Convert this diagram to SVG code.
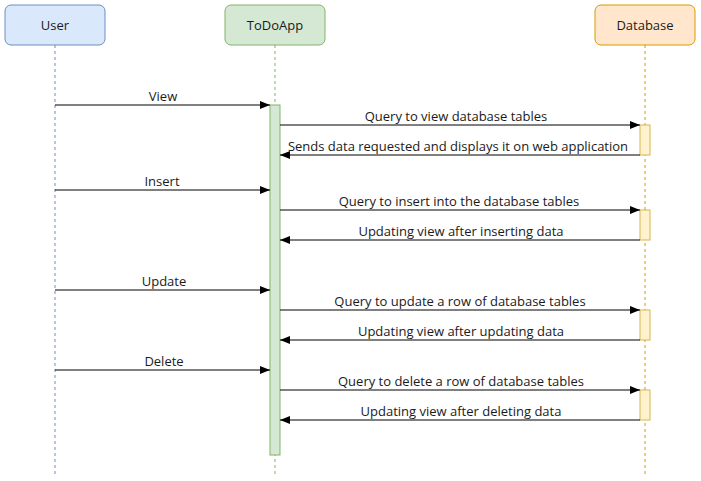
<svg xmlns="http://www.w3.org/2000/svg" width="701" height="481" viewBox="0 0 701 481">
<style>
text{font-family:"Open Sans","DejaVu Sans",sans-serif;font-size:13px;fill:#1a1a1a;text-anchor:middle}
.msg{stroke:#000;stroke-width:1;fill:none;marker-end:url(#arr)}
.ll{stroke-dasharray:3 3;stroke-width:1;fill:none}
</style>
<defs>
<marker id="arr" markerWidth="10" markerHeight="8" refX="10" refY="4" orient="auto" markerUnits="userSpaceOnUse">
<path d="M0,0 L10,4 L0,8 Z" fill="#000"/>
</marker>
</defs>
<rect width="701" height="481" fill="#fff"/>
<g id="user">
<line class="ll" x1="55" y1="45" x2="55" y2="475" stroke="#6c8ebf"/>
<rect x="5" y="5" width="100" height="40" rx="6" fill="#dae8fc" stroke="#6c8ebf"/>
<text x="55" y="30">User</text>
</g>
<g id="todoapp">
<line class="ll" x1="275" y1="45" x2="275" y2="475" stroke="#82b366"/>
<rect x="225" y="5" width="100" height="40" rx="6" fill="#d5e8d4" stroke="#82b366"/>
<text x="275" y="30">ToDoApp</text>
<rect x="270" y="105" width="10" height="350" fill="#d5e8d4" stroke="#82b366"/>
</g>
<g id="database">
<line class="ll" x1="645" y1="45" x2="645" y2="475" stroke="#d79b00"/>
<rect x="595" y="5" width="100" height="40" rx="6" fill="#ffe6cc" stroke="#d79b00"/>
<text x="645" y="30">Database</text>
<rect x="640" y="125" width="10" height="30" fill="#fff2cc" stroke="#d6b656"/>
<rect x="640" y="210" width="10" height="30" fill="#fff2cc" stroke="#d6b656"/>
<rect x="640" y="310" width="10" height="30" fill="#fff2cc" stroke="#d6b656"/>
<rect x="640" y="390" width="10" height="30" fill="#fff2cc" stroke="#d6b656"/>
</g>
<g id="connectors">
<line class="msg" x1="55" y1="105" x2="270" y2="105"/>
<text x="163" y="101">View</text>
<line class="msg" x1="280" y1="125" x2="640" y2="125"/>
<text x="456" y="121">Query to view database tables</text>
<line class="msg" x1="640" y1="155" x2="280" y2="155"/>
<text x="458" y="151">Sends data requested and displays it on web application</text>
<line class="msg" x1="55" y1="190" x2="270" y2="190"/>
<text x="162" y="186">Insert</text>
<line class="msg" x1="280" y1="210" x2="640" y2="210"/>
<text x="459" y="206">Query to insert into the database tables</text>
<line class="msg" x1="640" y1="240" x2="280" y2="240"/>
<text x="461" y="236">Updating view after inserting data</text>
<line class="msg" x1="55" y1="290" x2="270" y2="290"/>
<text x="164" y="286">Update</text>
<line class="msg" x1="280" y1="310" x2="640" y2="310"/>
<text x="460" y="306">Query to update a row of database tables</text>
<line class="msg" x1="640" y1="340" x2="280" y2="340"/>
<text x="461" y="336">Updating view after updating data</text>
<line class="msg" x1="55" y1="370" x2="270" y2="370"/>
<text x="164" y="366">Delete</text>
<line class="msg" x1="280" y1="390" x2="640" y2="390"/>
<text x="461" y="386">Query to delete a row of database tables</text>
<line class="msg" x1="640" y1="420" x2="280" y2="420"/>
<text x="461" y="416">Updating view after deleting data</text>
</g>
</svg>
